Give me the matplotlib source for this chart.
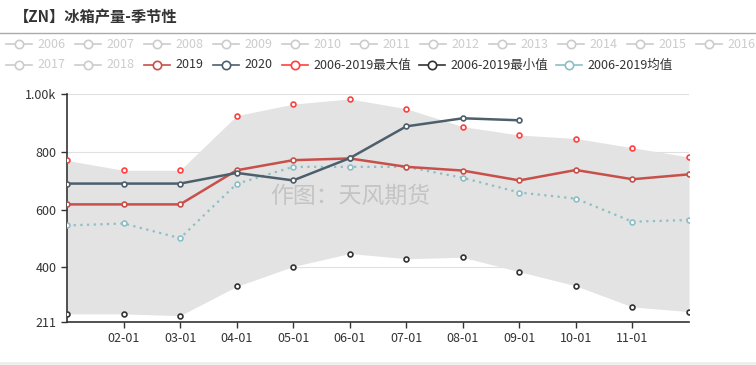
import numpy as np
import matplotlib.pyplot as plt
from matplotlib.lines import Line2D

plt.rcParams['font.family'] = ['Noto Sans CJK SC', 'DejaVu Sans']

# month labels (01-01 .. 12-01)
months = ["01-01", "02-01", "03-01", "04-01", "05-01", "06-01",
          "07-01", "08-01", "09-01", "10-01", "11-01", "12-01"]

max_2006_2019 = [770, 736, 736, 925, 965, 983, 949, 887, 858, 846, 814, 782]
min_2006_2019 = [239, 239, 233, 334, 403, 448, 430, 435, 385, 336, 263, 247]
mean_2006_2019 = [545, 552, 501, 689, 748, 748, 748, 710, 659, 638, 558, 564]
y2019 = [618, 618, 618, 736, 771, 777, 748, 735, 701, 737, 705, 722]
y2020 = [690, 690, 690, 727, 701, 778, 888, 916, 909]

hidden_years = [str(y) for y in range(2006, 2019)]
y_ticks = [211, 400, 600, 800, 1000]
y_tick_labels = ["211", "400", "600", "800", "1.00k"]

c2019 = "#c8504a"
c2020 = "#4d5f6c"
cmax = "#ff4040"
cmin = "#333333"
cmean = "#8cbfc4"

W, H = 756, 365
fig = plt.figure(figsize=(W / 100, H / 100), dpi=100)
ax = fig.add_axes([67 / W, (H - 322) / H, 622 / W, 228 / H])

x = np.arange(len(months))
ax.fill_between(x, min_2006_2019, max_2006_2019, color="#e3e3e3", lw=0, zorder=1)

mk = dict(marker="o", markersize=3.5, markerfacecolor="white", markeredgewidth=1.2)
ax.plot(x, max_2006_2019, ls="none", color=cmax, zorder=4, **mk)
ax.plot(x, min_2006_2019, ls="none", color=cmin, zorder=4, **mk)
ax.plot(x, mean_2006_2019, ls=(0, (1, 2)), lw=1.6, color=cmean, zorder=3, **mk)
ax.plot(x, y2019, lw=1.8, color=c2019, zorder=5, **mk)
ax.plot(np.arange(len(y2020)), y2020, lw=1.8, color=c2020, zorder=6, **mk)

ax.set_xlim(0, len(months) - 1)
ax.set_ylim(211, 1000)
ax.set_xticks(x[1:-1])
ax.set_xticklabels(months[1:-1])
ax.set_yticks(y_ticks)
ax.set_yticklabels(y_tick_labels)
ax.tick_params(labelsize=9, colors="#333333", length=4, width=1)
for t in y_ticks[1:]:
    ax.axhline(t, color="#e0e0e0", lw=0.8, zorder=0)
for s in ["top", "right"]:
    ax.spines[s].set_visible(False)
for s in ["left", "bottom"]:
    ax.spines[s].set_color("#333333")
    ax.spines[s].set_linewidth(1.2)

ax.text(0.455, 0.55, "作图：天风期货", transform=ax.transAxes, ha="center", va="center",
        fontsize=16.5, color="#c4c4c4", zorder=2)

# overlay in pixel coords for title and legend
ov = fig.add_axes([0, 0, 1, 1], facecolor="none")
ov.set_xlim(0, W)
ov.set_ylim(H, 0)
ov.axis("off")

ov.text(14, 17, "【ZN】冰箱产量-季节性", fontsize=11, fontweight="bold",
        color="#333333", va="center", ha="left")
ov.add_line(Line2D([0, W], [33, 33], color="#aaaaaa", lw=1))


def text_width(s):
    w = 0
    for ch in s:
        if ch.isdigit():
            w += 7
        elif ch == "-":
            w += 4
        else:
            w += 12
    return w


items = [(y, "#cccccc", "#cccccc") for y in hidden_years]
items += [("2019", c2019, "#333333"), ("2020", c2020, "#333333"),
          ("2006-2019最大值", cmax, "#333333"), ("2006-2019最小值", cmin, "#333333"),
          ("2006-2019均值", cmean, "#333333")]

px, py = 6, 44
for label, col, tcol in items:
    w = 26 + 5 + text_width(label)
    if px + w > W:
        px, py = 6, py + 21
    ov.add_line(Line2D([px, px + 26], [py, py], color=col, lw=1.2))
    ov.plot([px + 13], [py], marker="o", markersize=6, markerfacecolor="white",
            markeredgecolor=col, markeredgewidth=1.2)
    ov.text(px + 31, py, label, fontsize=9, color=tcol, va="center", ha="left")
    px += w + 10

ov.add_line(Line2D([0, W], [363, 363], color="#eeeeee", lw=2))

fig.savefig("out.png", dpi=100)
